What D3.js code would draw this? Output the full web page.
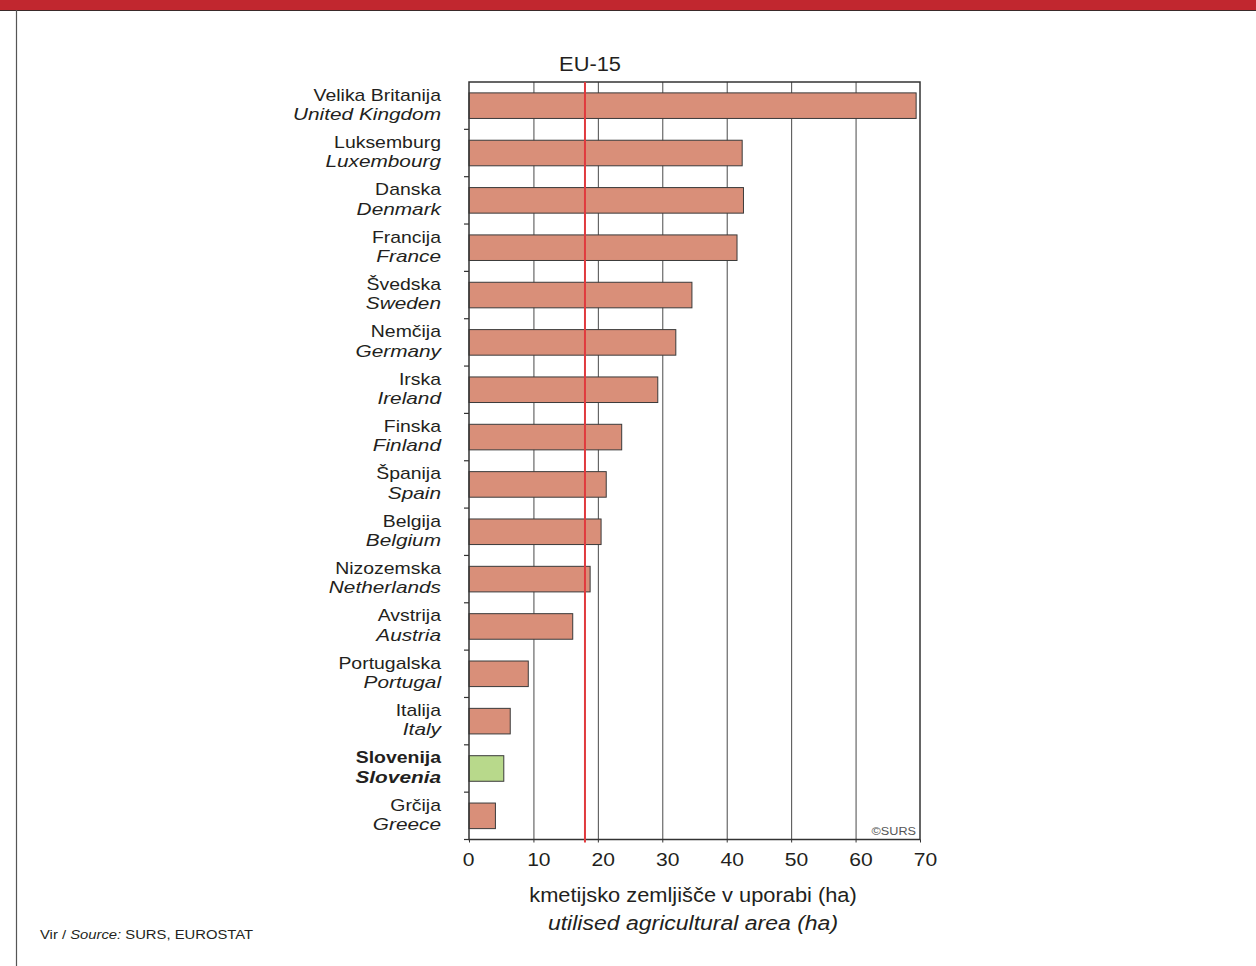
<!DOCTYPE html>
<html><head><meta charset="utf-8">
<script src="https://cdn.jsdelivr.net/npm/d3@7/dist/d3.min.js"></script>
<style>
body{margin:0;background:#fff;}
svg{display:block;font-family:"Liberation Sans",Arial,sans-serif;}
</style></head>
<body>
<svg id="c" width="1256" height="966"></svg>
<script>
const namesSl = ["Velika Britanija","Luksemburg","Danska","Francija","Švedska","Nemčija","Irska","Finska","Španija","Belgija","Nizozemska","Avstrija","Portugalska","Italija","Slovenija","Grčija"];
const namesEn = ["United Kingdom","Luxembourg","Denmark","France","Sweden","Germany","Ireland","Finland","Spain","Belgium","Netherlands","Austria","Portugal","Italy","Slovenia","Greece"];
const values = [69.4,42.4,42.6,41.6,34.6,32.1,29.3,23.7,21.3,20.5,18.8,16.1,9.2,6.4,5.4,4.1];
const eu15 = 18.0;
const xTicks = [0,10,20,30,40,50,60,70];
const highlight = "Slovenija";

(function(){
const svg = d3.select("#c");
const txt = "#231f20";

// stretched text helper (reference type is horizontally wider)
function stext(g, x, y, str, size, sx, opts){
  opts = opts || {};
  const t = g.append("text")
    .attr("transform",`translate(${x},${y}) scale(${sx},1)`)
    .attr("font-size",size).attr("fill",opts.fill||txt)
    .attr("text-anchor",opts.anchor||"start")
    .attr("font-style",opts.italic?"italic":"normal")
    .attr("font-weight",opts.bold?"bold":"normal");
  if(str!==null) t.text(str);
  return t;
}

// header band and frame
svg.append("rect").attr("x",0).attr("y",0).attr("width",1256).attr("height",10).attr("fill","#c1272f");
svg.append("line").attr("x1",0).attr("x2",1256).attr("y1",10.5).attr("y2",10.5).attr("stroke","#3a2a2a").attr("stroke-width",1.2);
svg.append("line").attr("x1",16.5).attr("x2",16.5).attr("y1",10).attr("y2",966).attr("stroke","#555").attr("stroke-width",1.2);

const pl = 469, pr = 920, pt = 82, pb = 839.5;
const x = d3.scaleLinear().domain([0,70]).range([pl,pr]);
const y = d3.scaleBand().domain(namesSl).range([pt,pb]).paddingInner(0.46).paddingOuter(0.23);

// gridlines
svg.append("g").selectAll("line").data(xTicks.slice(1,-1)).join("line")
  .attr("x1",d=>x(d)+0.5).attr("x2",d=>x(d)+0.5).attr("y1",pt).attr("y2",pb)
  .attr("stroke","#4a4a4a").attr("stroke-width",1);

// bars
svg.append("g").selectAll("rect").data(namesSl).join("rect")
  .attr("x",x(0)).attr("y",d=>y(d))
  .attr("width",(d,i)=>x(values[i])-x(0)).attr("height",y.bandwidth())
  .attr("fill",d=>d===highlight?"#b8d98b":"#d98f79")
  .attr("stroke","#3a3a3a").attr("stroke-width",1);

// frame
svg.append("rect").attr("x",pl).attr("y",pt).attr("width",pr-pl).attr("height",pb-pt)
  .attr("fill","none").attr("stroke","#333").attr("stroke-width",1.5);

// EU-15 line
svg.append("line").attr("x1",x(eu15)).attr("x2",x(eu15)).attr("y1",pt).attr("y2",pb+3)
  .attr("stroke","#e03a3e").attr("stroke-width",2);
stext(svg, 590, 71, "EU-15", 19.5, 1.12, {anchor:"middle"});

// left axis ticks at band boundaries
const step = y.step();
const bounds = namesSl.slice(1).map(d=>y(d)-y.paddingInner()*step/2);
bounds.push(pb);
svg.append("g").selectAll("line").data(bounds).join("line")
  .attr("x1",pl-5).attr("x2",pl).attr("y1",d=>d).attr("y2",d=>d)
  .attr("stroke","#333").attr("stroke-width",1.2);

// bottom axis
const xAxis = d3.axisBottom(x).tickValues(xTicks).tickSize(3).tickFormat("");
const gx = svg.append("g").attr("transform",`translate(0,${pb})`).call(xAxis);
gx.select(".domain").remove();
gx.selectAll("line").attr("stroke","#333");
const tl = svg.append("g");
xTicks.forEach(v=>{
  stext(tl, x(v)-6.3, 865.5, String(v), 19, 1.11);
});

// category labels
const lab = svg.append("g");
namesSl.forEach((d,i)=>{
  const cy = y(d)+y.bandwidth()/2;
  const b = d===highlight;
  stext(lab, 441, cy-5, d, 17.2, 1.13, {anchor:"end", bold:b});
  stext(lab, 441, cy+14.3, namesEn[i], 17.2, 1.21, {anchor:"end", bold:b, italic:true});
});

// copyright
stext(svg, 916, 835, "©SURS", 11.5, 1.1, {anchor:"end", fill:"#555"});

// axis title
stext(svg, 693, 902, "kmetijsko zemljišče v uporabi (ha)", 19.5, 1.12, {anchor:"middle"});
stext(svg, 693, 930, "utilised agricultural area (ha)", 19.5, 1.18, {anchor:"middle", italic:true});

// source
const src = stext(svg, 40, 939, null, 13, 1.14);
src.append("tspan").text("Vir / ");
src.append("tspan").attr("font-style","italic").text("Source:");
src.append("tspan").text(" SURS, EUROSTAT");
})();
</script>
</body></html>
